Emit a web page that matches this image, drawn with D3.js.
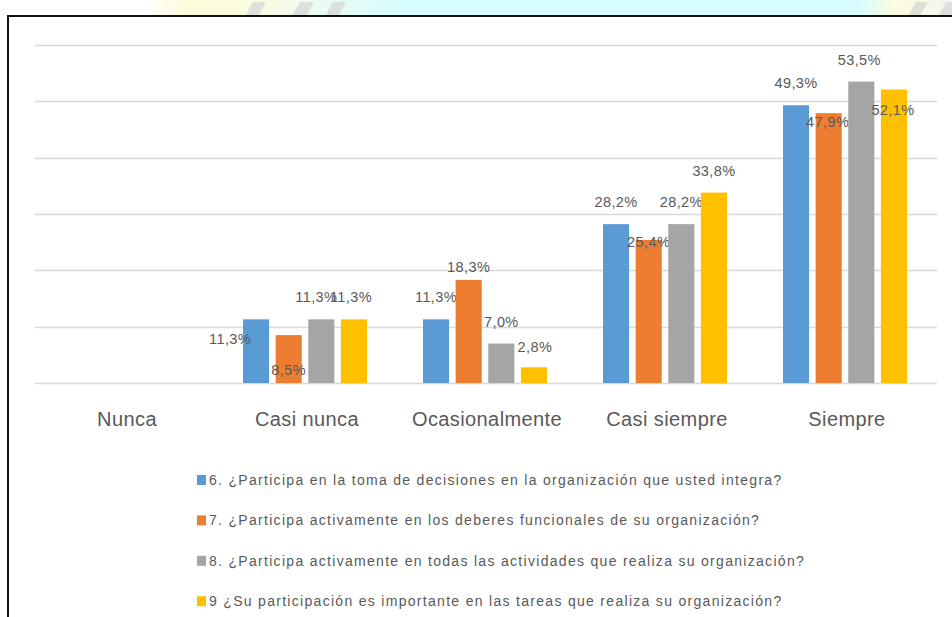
<!DOCTYPE html>
<html>
<head lang="es">
<meta charset="UTF-8">
<title>Participación</title>
<style>
body { margin: 0; background: #fff; }
.lbl { font-family: "Liberation Sans", Arial, sans-serif; fill: #595959; }
</style>
<script src="https://cdn.jsdelivr.net/npm/d3@7/dist/d3.min.js"></script>
</head>
<body>
<div id="vis"></div>
<script>

// data
var categories = ["Nunca", "Casi nunca", "Ocasionalmente", "Casi siempre", "Siempre"];
var seriesNames = [
  "6. ¿Participa en la toma de decisiones en la organización que usted integra?",
  "7. ¿Participa activamente en los deberes funcionales de su organización?",
  "8. ¿Participa activamente en todas las actividades que realiza su organización?",
  "9 ¿Su participación es importante en las tareas que realiza su organización?"
];
var q6 = [0, 11.3, 11.3, 28.2, 49.3];
var q7 = [0, 8.5, 18.3, 25.4, 47.9];
var q8 = [0, 11.3, 7.0, 28.2, 53.5];
var q9 = [0, 11.3, 2.8, 33.8, 52.1];
var yTicks = [0, 10, 20, 30, 40, 50, 60];

var colors = ["#5b9bd5", "#ed7d31", "#a5a5a5", "#ffc000"];
var allSeries = [q6, q7, q8, q9];

// labels that excel pushed around (dx, dy from the normal spot above the bar)
var nudge = {
  "Casi nunca|0": [-26, 42], "Casi nunca|1": [0, 57], "Casi nunca|2": [-5, 0], "Casi nunca|3": [-3, 0],
  "Ocasionalmente|1": [0, 9], "Ocasionalmente|3": [1, 2],
  "Casi siempre|1": [0, 24],
  "Siempre|1": [-1, 31], "Siempre|2": [-2, 0], "Siempre|3": [-1, 42]
};

var W = 952, H = 617;
var svg = d3.select("#vis").append("svg")
  .attr("width", W)
  .attr("height", H);

// watermark strip above the picture
var defs = svg.append("defs");
var grad = defs.append("linearGradient").attr("id", "wm");
[[0, "#ffffff"], [0.15, "#ffffff"], [0.2, "#fdfbd8"], [0.27, "#fbfbe2"], [0.36, "#e6fbf6"],
 [0.42, "#d6fcfd"], [0.9, "#d6fcfd"], [0.94, "#fcfbe0"], [1, "#f4f4f0"]].forEach(function(s) {
  grad.append("stop").attr("offset", s[0]).attr("stop-color", s[1]);
});
svg.append("rect").attr("x", 0).attr("y", 0).attr("width", W).attr("height", 16).attr("fill", "url(#wm)");
// grey bits of the logo lettering
[[245, 258], [292, 306], [325, 338], [908, 920], [938, 952]].forEach(function(p) {
  svg.append("path")
    .attr("d", "M" + p[0] + ",16 L" + (p[0] + 8) + ",2 L" + (p[1] + 8) + ",2 L" + p[1] + ",16 Z")
    .attr("fill", "#d4d4d4").attr("opacity", 0.7);
});

// frame
svg.append("line").attr("x1", 7).attr("x2", W).attr("y1", 16).attr("y2", 16)
  .attr("stroke", "#111").attr("stroke-width", 2);
svg.append("line").attr("x1", 8).attr("x2", 8).attr("y1", 15).attr("y2", H)
  .attr("stroke", "#111").attr("stroke-width", 2);
svg.append("rect").attr("x", 9).attr("y", 17).attr("width", W - 9).attr("height", H - 17).attr("fill", "#fff");

// scales
var x = d3.scaleBand().domain(categories).range([35, 935]).padding(0);
var x1 = d3.scaleBand().domain(d3.range(4)).range([28, 152]).paddingInner(0.2).paddingOuter(0);
var y = d3.scaleLinear().domain([0, 60]).range([383, 45]);

// gridlines
svg.append("g").selectAll("line").data(yTicks).enter().append("line")
  .attr("x1", 35).attr("x2", 937)
  .attr("y1", function(d) { return Math.round(y(d)) + 0.5; })
  .attr("y2", function(d) { return Math.round(y(d)) + 0.5; })
  .attr("stroke", "#d9d9d9").attr("stroke-width", 1.5);

// bars
var groups = svg.append("g").selectAll("g").data(categories).enter().append("g")
  .attr("transform", function(d) { return "translate(" + x(d) + ",0)"; });

var cells = groups.selectAll("g").data(function(c, ci) {
  return allSeries.map(function(s, si) { return {cat: c, si: si, v: s[ci]}; });
}).enter().append("g");

cells.filter(function(d) { return d.v > 0; }).append("rect")
  .attr("x", function(d) { return x1(d.si); })
  .attr("width", x1.bandwidth())
  .attr("y", function(d) { return y(d.v); })
  .attr("height", function(d) { return y(0) - y(d.v); })
  .attr("fill", function(d) { return colors[d.si]; });

cells.filter(function(d) { return d.v > 0; }).append("text")
  .attr("class", "lbl")
  .attr("font-size", 14.5)
  .attr("letter-spacing", 0.4)
  .attr("text-anchor", "middle")
  .attr("x", function(d) {
    var n = nudge[d.cat + "|" + d.si] || [0, 0];
    return x1(d.si) + x1.bandwidth() / 2 + n[0];
  })
  .attr("y", function(d) {
    var n = nudge[d.cat + "|" + d.si] || [0, 0];
    return y(d.v) - 17 + n[1];
  })
  .text(function(d) { return d.v.toFixed(1).replace(".", ",") + "%"; });

// category axis labels
svg.append("g").selectAll("text").data(categories).enter().append("text")
  .attr("class", "lbl")
  .attr("font-size", 20)
  .attr("letter-spacing", 0.4)
  .attr("text-anchor", "middle")
  .attr("x", function(d) { return x(d) + x.bandwidth() / 2 + 2; })
  .attr("y", 426)
  .text(function(d) { return d; });

// legend
var leg = svg.append("g").selectAll("g").data(seriesNames).enter().append("g")
  .attr("transform", function(d, i) { return "translate(197," + (480 + i * 40.4) + ")"; });
leg.append("rect").attr("x", 0).attr("y", -5).attr("width", 9).attr("height", 10)
  .attr("fill", function(d, i) { return colors[i]; });
leg.append("text").attr("class", "lbl")
  .attr("font-size", 14)
  .attr("letter-spacing", 1.3)
  .attr("x", 12).attr("y", 5)
  .text(function(d) { return d; });

</script>
</body>
</html>
